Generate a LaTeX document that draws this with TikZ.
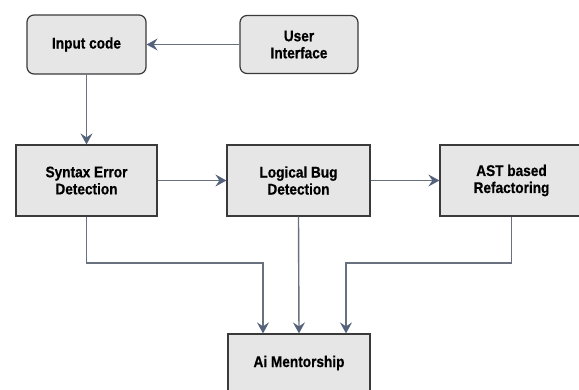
\documentclass[tikz,border=0pt]{standalone}
\usepackage{fontspec}
\setmainfont{Liberation Sans}[FakeStretch=0.88, BoldFeatures={FakeBold=0.6}]
\usetikzlibrary{arrows.meta}
\definecolor{boxfill}{HTML}{E6E6E6}
\definecolor{boxline}{HTML}{3A3A3A}
\definecolor{conn}{HTML}{6A717E}
\definecolor{tipc}{HTML}{55627B}
\begin{document}
\begin{tikzpicture}[x=1pt,y=-1pt,
  box/.style={draw=boxline, line width=1.2pt, fill=boxfill, align=center,
    font=\bfseries\fontsize{15.5}{17}\selectfont, inner sep=0pt},
  rbox/.style={box, rounded corners=7pt},
  conn/.style={draw=conn, line width=1.4pt,
    -{Stealth[length=11pt,width=12pt,inset=4pt,color=tipc]}}]
\clip (0,0) rectangle (579,389);
\fill[white] (0,0) rectangle (579,389);
\node[rbox, minimum width=119pt, minimum height=59pt] (input) at (86.5,44.5) {Input code};
\node[rbox, minimum width=118pt, minimum height=58pt] (ui) at (299,44.5) {User\\Interface};
\node[box, minimum width=141pt, minimum height=71pt] (syn) at (86.5,180.5) {Syntax Error\\Detection};
\node[box, minimum width=143pt, minimum height=71pt] (log) at (298.5,180.5) {Logical Bug\\Detection};
\node[box, minimum width=143pt, minimum height=71pt] (ast) at (511.5,180.5) {AST based\\Refactoring};
\node[box, minimum width=142pt, minimum height=58pt] (ai) at (299,363) {Ai Mentorship};
\coordinate (aiL) at ([xshift=-36pt]ai.north);
\coordinate (aiR) at ([xshift=47pt]ai.north);
\coordinate (yrow) at (0,263);
\draw[conn] (ui.west) -- (input.east);
\draw[conn] (input.south) -- (syn.north);
\draw[conn] (syn.east) -- (log.west);
\draw[conn] (log.east) -- (ast.west);
\draw[conn] (syn.south) -- (syn.south |- yrow) -| (aiL);
\draw[conn] (log.south) -- (ai.north);
\draw[conn] (ast.south) -- (ast.south |- yrow) -| (aiR);
\end{tikzpicture}
\end{document}
